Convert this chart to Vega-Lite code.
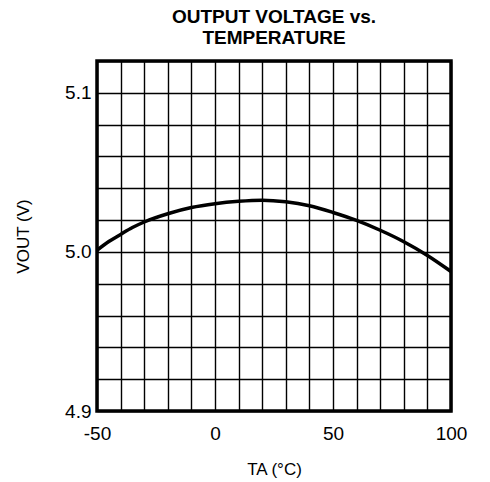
{
  "$schema": "https://vega.github.io/schema/vega-lite/v6.json",
  "width": 354,
  "height": 350,
  "padding": {"left": 14, "top": 8, "right": 10, "bottom": 5},
  "background": "white",
  "title": {
    "text": ["OUTPUT VOLTAGE vs.", "TEMPERATURE"],
    "font": "Liberation Sans",
    "fontSize": 19,
    "fontWeight": "bold",
    "color": "black",
    "anchor": "middle",
    "lineHeight": 21,
    "offset": 13
  },
  "config": {
    "view": {"stroke": "black", "strokeWidth": 3.5},
    "axis": {
      "labelFont": "Liberation Sans",
      "titleFont": "Liberation Sans",
      "labelColor": "black",
      "titleColor": "black",
      "labelFontSize": 19,
      "titleFontSize": 17,
      "titleFontWeight": "normal",
      "gridColor": "black",
      "gridWidth": 1.4,
      "gridOpacity": 1,
      "ticks": false,
      "domain": false
    }
  },
  "data": {
    "values": [
      {"t": -50, "v": 5.001},
      {"t": -45, "v": 5.0065},
      {"t": -40, "v": 5.011},
      {"t": -35, "v": 5.0153},
      {"t": -30, "v": 5.0188},
      {"t": -20, "v": 5.024},
      {"t": -10, "v": 5.0279},
      {"t": 0, "v": 5.0303},
      {"t": 10, "v": 5.0318},
      {"t": 20, "v": 5.0325},
      {"t": 30, "v": 5.0315},
      {"t": 40, "v": 5.029},
      {"t": 50, "v": 5.0248},
      {"t": 60, "v": 5.0198},
      {"t": 70, "v": 5.0136},
      {"t": 80, "v": 5.0064},
      {"t": 90, "v": 4.9978},
      {"t": 100, "v": 4.9877}
    ]
  },
  "mark": {"type": "line", "color": "black", "strokeWidth": 3.5, "interpolate": "monotone", "clip": true},
  "encoding": {
    "x": {
      "field": "t",
      "type": "quantitative",
      "scale": {"domain": [-50, 100], "nice": false, "zero": false},
      "axis": {
        "title": "TA (°C)",
        "values": [-50, -40, -30, -20, -10, 0, 10, 20, 30, 40, 50, 60, 70, 80, 90, 100],
        "labelExpr": "datum.value % 50 == 0 ? (datum.value < 0 ? '-' + abs(datum.value) : '' + datum.value) : ''",
        "labelPadding": 13,
        "titlePadding": 18,
        "labelFlush": false
      }
    },
    "y": {
      "field": "v",
      "type": "quantitative",
      "scale": {"domain": [4.9, 5.12], "nice": false, "zero": false},
      "axis": {
        "title": "VOUT (V)",
        "values": [4.9, 4.92, 4.94, 4.96, 4.98, 5.0, 5.02, 5.04, 5.06, 5.08, 5.1, 5.12],
        "format": ".1f",
        "labelExpr": "abs(datum.value * 10 - round(datum.value * 10)) < 0.001 && datum.value < 5.11 ? datum.label : ''",
        "labelPadding": 6,
        "titlePadding": 32,
        "labelFlush": false
      }
    }
  }
}
